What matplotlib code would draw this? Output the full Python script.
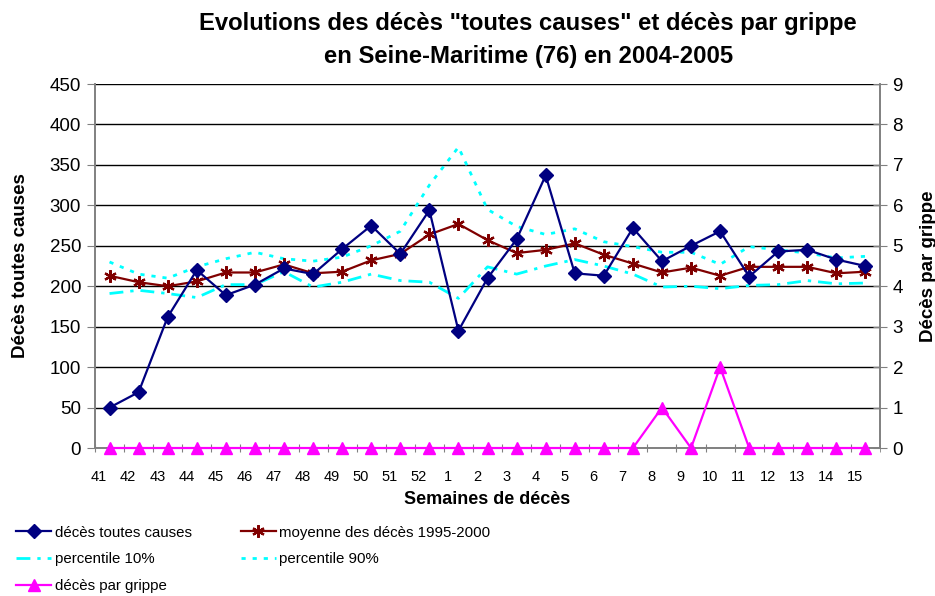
import numpy as np
import matplotlib
matplotlib.use("Agg")
import matplotlib.pyplot as plt
from matplotlib.transforms import ScaledTranslation

plt.rcParams["font.family"] = ["Liberation Sans", "DejaVu Sans"]

# Semaines 41-52 (2004) puis 1-15 (2005)
semaines = ["41", "42", "43", "44", "45", "46", "47", "48", "49", "50", "51", "52",
            "1", "2", "3", "4", "5", "6", "7", "8", "9", "10", "11", "12", "13", "14", "15"]

deces_toutes_causes = [50, 69, 162, 220, 189, 202, 222, 215, 246, 275, 240, 294,
                       145, 210, 258, 337, 216, 213, 272, 231, 250, 268, 212, 243,
                       245, 233, 225]
moyenne_1995_2000 = [213, 205, 200, 206, 217, 217, 227, 216, 218, 232, 240, 264,
                     277, 257, 241, 245, 253, 239, 228, 217, 223, 213, 224, 224,
                     224, 216, 218]
percentile_10 = [191, 195, 191, 186, 202, 202, 218, 199, 205, 215, 207, 205,
                 185, 224, 215, 225, 233, 225, 215, 199, 200, 197, 201, 202,
                 207, 203, 204]
percentile_90 = [230, 215, 210, 224, 234, 242, 234, 231, 236, 250, 268, 325,
                 372, 295, 274, 264, 271, 255, 249, 242, 242, 227, 249, 245,
                 241, 235, 237]
deces_grippe = [0, 0, 0, 0, 0, 0, 0, 0, 0, 0, 0, 0,
                0, 0, 0, 0, 0, 0, 0, 1, 0, 2, 0, 0,
                0, 0, 0]

x = np.arange(len(semaines))

fig = plt.figure(figsize=(9.35, 5.96), dpi=100)
ax = fig.add_axes([0.1016, 0.2483, 0.8396, 0.6107])
ax2 = ax.twinx()

l_toutes, = ax.plot(x, deces_toutes_causes, color="#000080", lw=1.6,
                    marker="D", ms=7.5, zorder=5, label="décès toutes causes")
l_moy, = ax.plot(x, moyenne_1995_2000, color="#800000", lw=1.6,
                 marker=(6, 2, 0), ms=9, mew=1.6, zorder=4,
                 label="moyenne des décès 1995-2000")
l_p10, = ax.plot(x, percentile_10, color="#00FFFF", lw=2,
                 ls=(0, (5, 2.5, 1.2, 2.5)), zorder=3, label="percentile 10%")
l_p90, = ax.plot(x, percentile_90, color="#00FFFF", lw=2,
                 ls=(0, (1.5, 2.5)), zorder=3, label="percentile 90%")
l_grippe, = ax2.plot(x, deces_grippe, color="#FF00FF", lw=1.6,
                     marker="^", ms=9, zorder=6, clip_on=False,
                     label="décès par grippe")

ax.set_xlim(-0.5, len(semaines) - 0.5)
ax.set_ylim(0, 450)
ax.set_yticks(np.arange(0, 451, 50))
ax2.set_ylim(0, 9)
ax2.set_yticks(np.arange(0, 10, 1))

ax.grid(axis="y", color="black", lw=1)
ax.set_axisbelow(True)

for a in (ax, ax2):
    for s in a.spines.values():
        s.set_color("#808080")
        s.set_linewidth(1.2)
    a.spines["top"].set_visible(False)

ax.tick_params(axis="y", direction="out", length=6, color="#808080",
               labelsize=13.5, pad=4)
ax2.tick_params(axis="y", direction="inout", length=10, color="#808080",
                labelsize=13.5, pad=4)

# labels de semaines posés sur les séparations de catégories
ax.set_xticks(x - 0.5)
ax.set_xticklabels(semaines)
ax.set_xticks([len(semaines) - 0.5], minor=True)
ax.tick_params(axis="x", which="both", direction="inout", length=6,
               color="#808080", labelsize=10.5, pad=13)
for lab in ax.get_xticklabels():
    lab.set_transform(lab.get_transform() + ScaledTranslation(3 / 72, 0, fig.dpi_scale_trans))

ax.set_ylabel("Décès toutes causes", fontsize=13.5, fontweight="bold", labelpad=15)
ax2.set_ylabel("Décès par grippe", fontsize=13.5, fontweight="bold", labelpad=12)
ax.set_xlabel("Semaines de décès", fontsize=13, fontweight="bold", labelpad=5)

fig.text(0.565, 0.98,
         "Evolutions des décès \"toutes causes\" et décès par grippe\n"
         "en Seine-Maritime (76) en 2004-2005",
         ha="center", va="top", fontsize=17.2, fontweight="bold", linespacing=1.55)

handles = [l_toutes, l_p10, l_grippe, l_moy, l_p90]
fig.legend(handles=handles, labels=[h.get_label() for h in handles],
           loc="upper left", bbox_to_anchor=(0.011, 0.128), ncol=2,
           frameon=False, prop={"size": 10.8},
           handlelength=2.3, handletextpad=0.25, labelspacing=0.85,
           columnspacing=3.3, borderaxespad=0)

fig.savefig("out.png", dpi=100)
